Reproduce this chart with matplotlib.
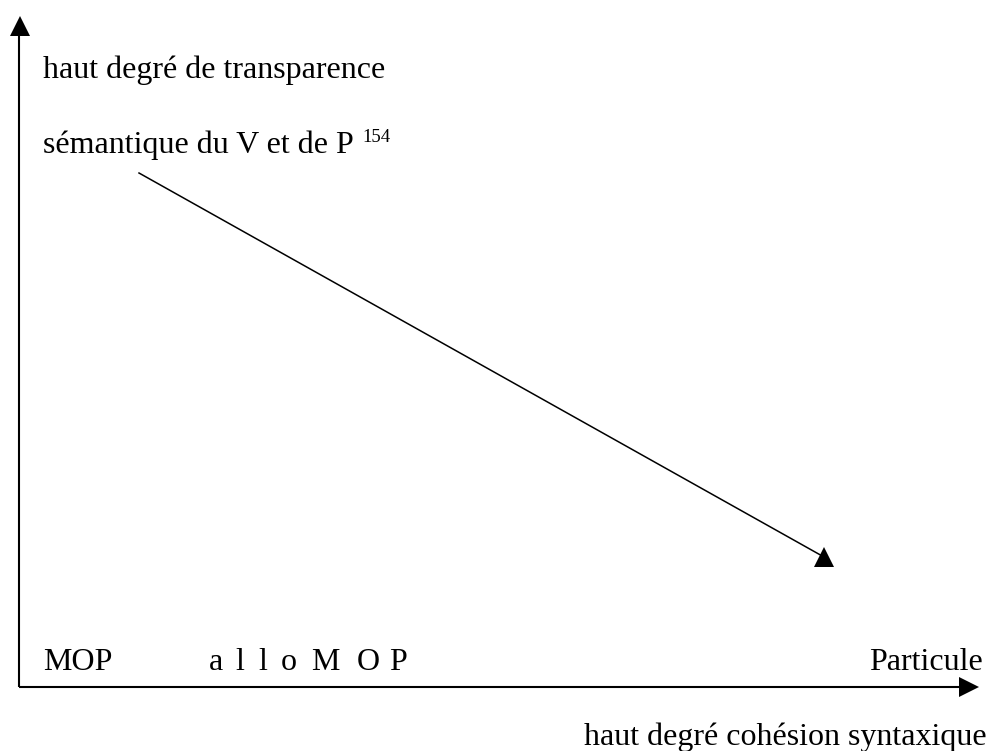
import matplotlib
matplotlib.use("Agg")
import matplotlib.pyplot as plt

plt.rcParams['font.family'] = ['Liberation Serif', 'DejaVu Serif']

# texts of the diagram
y_label_lines = ["haut degré de transparence", "sémantique du V et de P"]
y_label_sup = "154"
x_left = "MOP"
x_mid = ["a", "l", "l", "o", "M", "O", "P"]
x_mid_pos = [209, 235, 258, 281, 311, 357, 389]
x_right = "Particule"
x_label = "haut degré cohésion syntaxique"

# axis geometry in pixels (origin top-left)
origin = (19, 687)
y_top = 25
x_end = 969
diag_start = (139, 173)
diag_end = (824, 557)

fig = plt.figure(figsize=(9.92, 7.51), dpi=100)
ax = fig.add_axes([0, 0, 1, 1])
ax.set_xlim(0, 992)
ax.set_ylim(751, 0)
ax.axis("off")

# axes with arrowheads
ax.plot([origin[0], origin[0]], [origin[1], y_top], color="black", lw=1.5,
        solid_capstyle="butt")
ax.plot([origin[0], x_end], [origin[1], origin[1]], color="black", lw=1.5,
        solid_capstyle="butt")
ax.plot(origin[0] + 0.5, y_top + 0.5, marker="^", ms=15, color="black", mew=0)
ax.plot(x_end, origin[1], marker=">", ms=15, color="black", mew=0)

# diagonal arrow
ax.plot([diag_start[0], diag_end[0]], [diag_start[1], diag_end[1]],
        color="black", lw=1.1)
ax.plot(diag_end[0], diag_end[1], marker="^", ms=15, color="black", mew=0)

fs = 23
ax.text(43, 78, y_label_lines[0], fontsize=fs, va="baseline", ha="left")
t = ax.text(43, 153, y_label_lines[1], fontsize=fs, va="baseline", ha="left")
ax.annotate(y_label_sup, xy=(1, 0), xycoords=t, xytext=(6, 13),
            textcoords="offset points", fontsize=13.5, va="baseline", ha="left")

ax.text(43, 670, x_left, fontsize=fs, va="baseline", ha="left")
for ch, xp in zip(x_mid, x_mid_pos):
    ax.text(xp, 670, ch, fontsize=fs, va="baseline", ha="left")
ax.text(983, 670, x_right, fontsize=fs, va="baseline", ha="right")
ax.text(987, 745, x_label, fontsize=fs, va="baseline", ha="right")

fig.savefig("out.png", dpi=100)
